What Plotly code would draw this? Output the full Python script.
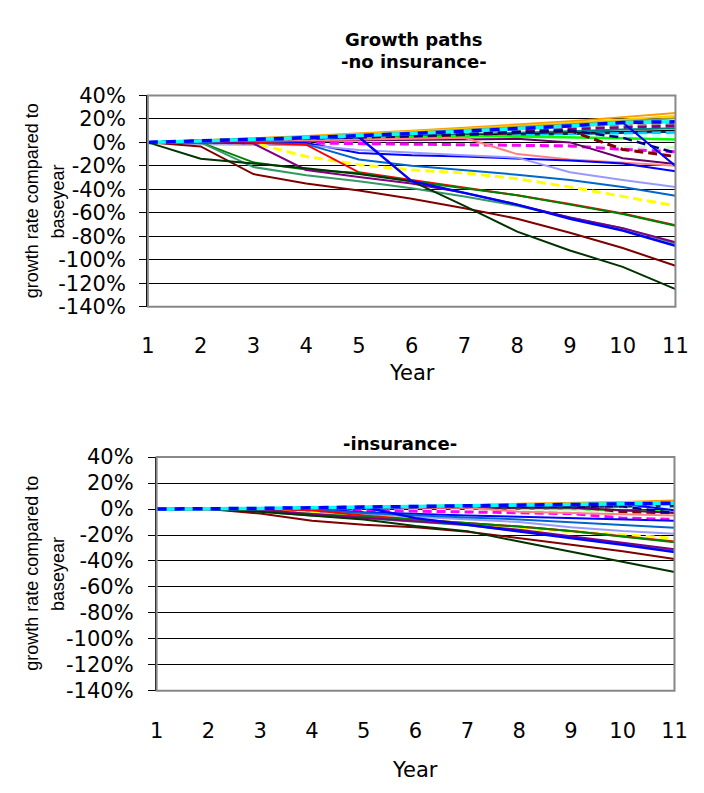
import plotly.graph_objects as go

years = list(range(1, 12))
y_ticks = list(range(-140, 41, 20))
y_tick_labels = [f"{v}%" for v in y_ticks]

# ---------------- values (percent) ----------------
# -no insurance-
orange_no      = [0, 1.5, 3.5, 5.5, 7.5, 10, 12.5, 15, 18, 21.5, 25]
gold_no        = [0, 1.5, 3, 5, 7, 9, 11.5, 14, 16.5, 19.5, 22.5]
olive_no       = [0, 1.5, 3, 4.5, 6.5, 8.5, 10.5, 13, 15.5, 18, 20.5]
tan_no         = [0, 1, 2.5, 4, 5.5, 7.5, 9, 11, 13, 15.5, 18]
gray_no        = [0, 1, 2.5, 4, 5.5, 7, 8.5, 10, 12, 14, 15.5]
purple_dash_no = [0, 1, 2, 3.5, 5, 6.5, 8, 9.5, 11, 12.5, 14]
teal_no        = [0, 1, 2, 3, 4.5, 5.5, 7, 8, 9.5, 11, 12]
black_no       = [0, 0.5, 1.5, 2.5, 3.5, 4.5, 5.5, 6.5, 7.5, 9, 10]
darkteal_no    = [0, 0.5, 1.5, 2.5, 3, 4, 5, 6, 7, 8, 9]
skyblue_no     = [0, 0.5, 1.5, 2, 3, 4, 5, 5.5, 6.5, 7.5, 8.5]
lightcyan_no   = [0, 0.5, 1, 1.5, 2, 3, 3.5, 4, 5, 5.5, 6]
lime_no        = [0, 0.5, 1.5, 2.5, 3.5, 4.5, 5.5, 5, 4.5, 3.5, 2.5]
lightgreen_no  = [0, 0, -0.5, -1, -1.5, -2, -2.5, -3, -3.5, -4, -4.5]
magenta_no     = [0, 0, 0, -0.5, -1, -1.5, -2, -2.5, -3, -6, -8]
maroon_dash_no = [0, 0.5, 1.5, 2.5, 3.5, 5, 6.5, 8, 10, -6, -12]
darkpurple_no  = [0, 0.5, 1, 1.5, 2, 2.5, 3, 3, 0, -13.5, -18.5]
salmon_no      = [0, 0.5, 1, 1.5, 2, 3, 4, -10, -14.5, -17, -20]
blue_flat_no   = [0, 0, 0, -0.5, -9, -11, -12, -13.5, -15.5, -18, -24.5]
periwinkle_no  = [0, -1.5, -2, -2.5, -6.5, -9, -11, -13, -25.5, -32, -38]
steelblue_no   = [0, 0, 0, -1.5, -14.5, -20, -23.5, -27.5, -32, -38, -45.5]
yellow_no      = [0, 0, -0.5, -12, -19, -23.5, -26, -31, -38, -46, -54]
red_no         = [0, 0, 0, -2, -25.5, -32, -38.5, -45, -52.5, -60.5, -70.5]
green_no       = [0, 0, -17, -23, -26, -33, -39, -45, -53, -61, -71]
seagreen_no    = [0, 0, -21, -28, -33, -39, -46, -54, -64, -73, -86]
purple_no      = [0, 0, -1, -23.5, -29.5, -35, -43, -53, -64, -73, -85]
darkred_no     = [0, -3.5, -27, -35, -41, -48, -56, -65, -77, -90, -105]
darkgreen_no   = [0, -14, -18, -22, -27, -33, -54, -76, -92, -106, -125]
blue_diag_no   = [0, 1, 2, 3.5, 4.5, -33, -43, -53, -65, -75, -88]
navy_dash_no   = [0, 1, 2, 3, 4, 5.5, 7, 8.5, 10, 4, -9]
blue_drop_no   = [0, 1, 2.5, 4, 5.5, 7.5, 9.5, 11.5, 14, 17, -20]
cyan_no        = [0, 1, 2.5, 4, 5.5, 7.5, 9.5, 11.5, 14, 17, 17.5]
blue_dash_no   = [0, 1, 2.5, 4, 5.5, 7.5, 9.5, 11.5, 14, 17, 17.5]

# -insurance-
orange_ins      = [0, 0, 0.5, 1, 1.5, 2.5, 3, 4, 4.5, 5.5, 6.5]
gold_ins        = [0, 0, 0.5, 1, 1.5, 2, 3, 3.5, 4, 5, 5.5]
olive_ins       = [0, 0, 0.5, 1, 1.5, 2, 2.5, 3, 3.5, 4.5, 5]
tan_ins         = [0, 0, 0.5, 1, 1, 1.5, 2, 2.5, 3, 3.5, 4]
gray_ins        = [0, 0, 0.5, 1, 1, 1.5, 2, 2.5, 3, 3.5, 4]
purple_dash_ins = [0, 0, 0.5, 0.5, 1, 1.5, 2, 2.5, 3, 3.5, 4]
teal_ins        = [0, 0, 0.5, 0.5, 1, 1.5, 1.5, 2, 2.5, 3, 3]
black_ins       = [0, 0, 0.5, 0.5, 1, 1, 1.5, 1.5, 2, 2, 2.5]
darkteal_ins    = [0, 0, 0, 0.5, 0.5, 1, 1, 1.5, 1.5, 2, 2]
skyblue_ins     = [0, 0, 0.5, 0.5, 1, 1, 1.5, 1.5, 2, 2, 2.5]
lightcyan_ins   = [0, 0, 0, 0.5, 0.5, 0.5, 1, 1, 1, 1.5, 1.5]
lime_ins        = [0, 0, 0.5, 0.5, 1, 1, 1, 0.5, 0, -1, -2]
lightgreen_ins  = [0, 0, 0, -0.5, -0.5, -1, -1, -1.5, -1.5, -2, -2.5]
magenta_ins     = [0, 0, 0, -0.5, -1, -1.5, -2, -2.5, -3.5, -7, -8]
maroon_dash_ins = [0, 0, 0.5, 0.5, 1, 1, 1.5, 1.5, 2, -2, -3]
darkpurple_ins  = [0, 0, 0.5, 0.5, 1, 1, 1.5, 1.5, 1, -1, -3]
salmon_ins      = [0, 0, 0.5, 0.5, 1, 1, 1, -2, -3, -4, -5]
blue_flat_ins   = [0, 0, 0, 0, -2.5, -4, -5, -6, -7, -8, -9]
periwinkle_ins  = [0, 0, -1, -2, -4, -6, -8, -10, -14, -17, -19]
steelblue_ins   = [0, 0, 0, -0.5, -3, -5, -6.5, -8, -10, -12, -14.5]
yellow_ins      = [0, 0, -0.5, -3, -5.5, -8, -12, -14.5, -17.5, -20, -22.5]
red_ins         = [0, 0, 0, -1, -5, -8, -10.5, -13.5, -17, -21, -25]
green_ins       = [0, 0, -1.5, -4, -6, -8, -10.5, -13.5, -17, -21, -25.5]
seagreen_ins    = [0, 0, -2, -5, -7, -9.5, -12.5, -17, -22, -27, -31.5]
purple_ins      = [0, 0, -0.5, -4, -6.5, -9, -12, -16, -21, -26, -31]
darkred_ins     = [0, 0, -3.5, -9, -12, -14, -17.5, -22.5, -27, -32.5, -38.5]
darkgreen_ins   = [0, 0, -2, -5, -8, -13, -17, -25, -33, -40.5, -48.5]
blue_diag_ins   = [0, 0, 0.5, 1, 1.5, -7, -12, -17.5, -22.5, -27.5, -33]
navy_dash_ins   = [0, 0, 0.5, 1, 1, 1.5, 2, 2, 2.5, 2, -3]
blue_drop_ins   = [0, 0, 0.5, 1, 1.5, 2, 2.5, 3, 3.5, 4, -1]
cyan_ins        = [0, 0, 0.5, 1, 1.5, 2, 2.5, 3, 3.5, 4, 4.5]
blue_dash_ins   = [0, 0, 0.5, 1, 1.5, 2, 2.5, 3, 3.5, 4, 4.5]

# ---------------- series styles (drawing order) ----------------
DASH = "9px,5px"
series = [
    # (values no insurance, values insurance, color, dash, width)
    (orange_no, orange_ins, "#FF9900", "solid", 2),
    (gold_no, gold_ins, "#FFCC00", "solid", 2),
    (olive_no, olive_ins, "#999933", "solid", 2),
    (tan_no, tan_ins, "#FFCC99", "solid", 2),
    (gray_no, gray_ins, "#969696", DASH, 3),
    (purple_dash_no, purple_dash_ins, "#800080", DASH, 3),
    (teal_no, teal_ins, "#008080", "solid", 2),
    (black_no, black_ins, "#000000", "solid", 2),
    (darkteal_no, darkteal_ins, "#003366", "solid", 2),
    (skyblue_no, skyblue_ins, "#00CCFF", DASH, 3),
    (lightcyan_no, lightcyan_ins, "#CCFFFF", DASH, 3),
    (lime_no, lime_ins, "#00FF00", "solid", 2.5),
    (lightgreen_no, lightgreen_ins, "#CCFFCC", DASH, 3),
    (magenta_no, magenta_ins, "#FF00FF", DASH, 3),
    (maroon_dash_no, maroon_dash_ins, "#800000", DASH, 3),
    (darkpurple_no, darkpurple_ins, "#660066", "solid", 2),
    (salmon_no, salmon_ins, "#FF8080", "solid", 2),
    (blue_flat_no, blue_flat_ins, "#0000FF", "solid", 2),
    (periwinkle_no, periwinkle_ins, "#9999FF", "solid", 2),
    (steelblue_no, steelblue_ins, "#0066CC", "solid", 2),
    (yellow_no, yellow_ins, "#FFFF00", DASH, 3),
    (red_no, red_ins, "#FF0000", "solid", 2),
    (green_no, green_ins, "#008000", "solid", 2),
    (seagreen_no, seagreen_ins, "#339966", "solid", 2),
    (purple_no, purple_ins, "#800080", "solid", 2),
    (darkred_no, darkred_ins, "#800000", "solid", 2),
    (darkgreen_no, darkgreen_ins, "#003300", "solid", 2),
    (blue_diag_no, blue_diag_ins, "#0000FF", "solid", 2.5),
    (navy_dash_no, navy_dash_ins, "#000080", DASH, 2.5),
    (blue_drop_no, blue_drop_ins, "#0000FF", "solid", 2),
    (cyan_no, cyan_ins, "#00FFFF", "solid", 3.5),
    (blue_dash_no, blue_dash_ins, "#0000FF", "10px,8px", 3.5),
]

fig = go.Figure()
for vals_no, vals_ins, color, dash, width in series:
    fig.add_trace(go.Scatter(x=years, y=vals_no, mode="lines", xaxis="x", yaxis="y",
                             line=dict(color=color, dash=dash, width=width), showlegend=False))
    fig.add_trace(go.Scatter(x=years, y=vals_ins, mode="lines", xaxis="x2", yaxis="y2",
                             line=dict(color=color, dash=dash, width=width), showlegend=False))

W, H = 704, 793
WIDE = "DejaVu Sans, Verdana, sans-serif"
ARIAL = "Arial, Liberation Sans, sans-serif"


def px_x(p):
    return p / W


def px_y(p):
    return 1 - p / H


# plot areas in pixels
top = dict(l=145, r=688, t=86, b=304)
bot = dict(l=154, r=687, t=459, b=700)

dom_top_x = [px_x(top["l"]), px_x(top["r"])]
dom_top_y = [px_y(top["b"]), px_y(top["t"])]
dom_bot_x = [px_x(bot["l"]), px_x(bot["r"])]
dom_bot_y = [px_y(bot["b"]), px_y(bot["t"])]

zero_top = dom_top_y[0] + (dom_top_y[1] - dom_top_y[0]) * 140 / 180
zero_bot = dom_bot_y[0] + (dom_bot_y[1] - dom_bot_y[0]) * 140 / 180

xcommon = dict(range=[1, 11], tickvals=years, ticktext=[str(v) for v in years],
               showgrid=False, zeroline=False, showline=False, ticks="",
               tickfont=dict(family=WIDE, size=21, color="#000000"))
ycommon = dict(range=[-140, 40], tickvals=y_ticks, ticktext=y_tick_labels,
               showgrid=True, gridcolor="#000000", gridwidth=1, zeroline=False,
               showline=True, linecolor="#000000", linewidth=1.5,
               ticks="outside", ticklen=7, tickcolor="#000000", tickwidth=1,
               tickfont=dict(family=WIDE, size=21, color="#000000"))

fig.update_layout(
    width=W, height=H, autosize=False,
    margin=dict(l=0, r=0, t=0, b=0),
    paper_bgcolor="white", plot_bgcolor="white",
    showlegend=False,
    xaxis=dict(domain=dom_top_x, anchor="y", ticklabelstandoff=24, **xcommon),
    yaxis=dict(domain=dom_top_y, anchor="x", ticklabelstandoff=9, **ycommon),
    xaxis2=dict(domain=dom_bot_x, anchor="y2", ticklabelstandoff=25, **xcommon),
    yaxis2=dict(domain=dom_bot_y, anchor="x2", ticklabelstandoff=10, **ycommon),
    # tick marks on the 0% line
    xaxis3=dict(domain=dom_top_x, overlaying="x", anchor="free", position=zero_top,
                range=[1, 11], tickvals=years[1:-1], ticks="outside", ticklen=4,
                tickcolor="#000000", showticklabels=False, showgrid=False,
                zeroline=False, showline=False),
    xaxis4=dict(domain=dom_bot_x, overlaying="x2", anchor="free", position=zero_bot,
                side="top", range=[1, 11], tickvals=years[1:-1], ticks="outside",
                ticklen=7, tickcolor="#000000", showticklabels=False, showgrid=False,
                zeroline=False, showline=False),
    xaxis5=dict(domain=dom_bot_x, overlaying="x2", anchor="free", position=zero_bot,
                range=[1, 11], tickvals=[v + 0.5 for v in years[:-1]], ticks="outside",
                ticklen=6, tickcolor="#000000", showticklabels=False, showgrid=False,
                zeroline=False, showline=False),
)

# plot area borders (grey)
for xr, yr in (("x", "y"), ("x2", "y2")):
    fig.add_shape(type="rect", xref=f"{xr} domain", yref=f"{yr} domain",
                  x0=0, x1=1, y0=0, y1=1, line=dict(color="#888888", width=2),
                  layer="above")

annos = [
    ("Growth paths", 419, 28, WIDE, 18, True, 0),
    ("-no insurance-", 419, 51, WIDE, 18, True, 0),
    ("-insurance-", 405, 445, WIDE, 18, True, 0),
    ("Year", 417, 372, WIDE, 21, False, 0),
    ("Year", 420, 782, WIDE, 21, False, 0),
    ("growth rate compared to", 26, 195, ARIAL, 18, False, -90),
    ("baseyear", 53, 195, ARIAL, 18, False, -90),
    ("growth rate compared to", 26, 579, ARIAL, 18, False, -90),
    ("baseyear", 53, 579, ARIAL, 18, False, -90),
]
for text, ax_, ay_, fam, size, bold, ang in annos:
    fig.add_annotation(text=f"<b>{text}</b>" if bold else text,
                       x=px_x(ax_), y=px_y(ay_), xref="paper", yref="paper",
                       xanchor="center", yanchor="middle", showarrow=False,
                       textangle=ang,
                       font=dict(family=fam, size=size, color="#000000"))

fig.write_html("out.html", config={"displayModeBar": False},
               post_script="document.body.style.margin='0';document.body.style.padding='0';")
